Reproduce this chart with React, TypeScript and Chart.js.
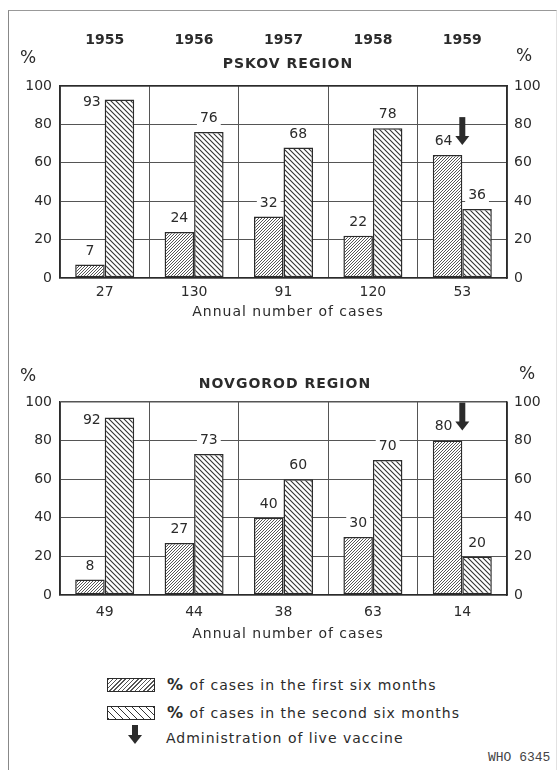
import React, { useEffect, useRef } from "react";
import { Chart, registerables } from "chart.js";

Chart.register(...registerables);

// ---------- data ----------
const years = ["1955", "1956", "1957", "1958", "1959"];

const pskovCases = ["27", "130", "91", "120", "53"];
const pskovFirstHalf = [7, 24, 32, 22, 64];
const pskovSecondHalf = [93, 76, 68, 78, 36];
const pskovVaccine = [false, false, false, false, true];

const novgorodCases = ["49", "44", "38", "63", "14"];
const novgorodFirstHalf = [8, 27, 40, 30, 80];
const novgorodSecondHalf = [92, 73, 60, 70, 20];
const novgorodVaccine = [false, false, false, false, true];

const legendLabels = [
  "of cases in the first six months",
  "of cases in the second six months",
  "Administration of live vaccine",
];

const FONT = "'DejaVu Sans', sans-serif";
const INK = "#2b2b2b";

function makeHatch(ctx: CanvasRenderingContext2D, dir: 1 | -1, size: number, lw: number, color: string) {
  const c = document.createElement("canvas");
  c.width = size;
  c.height = size;
  const g = c.getContext("2d")!;
  g.fillStyle = "#fff";
  g.fillRect(0, 0, size, size);
  g.strokeStyle = color;
  g.lineWidth = lw;
  g.beginPath();
  if (dir === 1) {
    g.moveTo(-1, size + 1);
    g.lineTo(size + 1, -1);
    g.moveTo(-1, 1);
    g.lineTo(1, -1);
    g.moveTo(size - 1, size + 1);
    g.lineTo(size + 1, size - 1);
  } else {
    g.moveTo(-1, -1);
    g.lineTo(size + 1, size + 1);
    g.moveTo(size - 1, -1);
    g.lineTo(size + 1, 1);
    g.moveTo(-1, size - 1);
    g.lineTo(1, size + 1);
  }
  g.stroke();
  return ctx.createPattern(c, "repeat")!;
}

function drawArrow(ctx: CanvasRenderingContext2D, x: number, tipY: number, len: number) {
  const shaftW = 6;
  const headW = 14;
  const headH = 9;
  ctx.save();
  ctx.fillStyle = INK;
  ctx.fillRect(x - shaftW / 2, tipY - len, shaftW, len - headH + 1);
  ctx.beginPath();
  ctx.moveTo(x - headW / 2, tipY - headH);
  ctx.lineTo(x + headW / 2, tipY - headH);
  ctx.lineTo(x, tipY);
  ctx.closePath();
  ctx.fill();
  ctx.restore();
}

const barLabelPlugin = {
  id: "barLabels",
  afterDatasetsDraw(chart: any) {
    const ctx: CanvasRenderingContext2D = chart.ctx;
    const opts = chart.options.plugins.barLabels || {};
    const vaccine: boolean[] = opts.vaccine || [];
    ctx.save();
    ctx.font = `14px ${FONT}`;
    ctx.textBaseline = "middle";
    chart.data.datasets.forEach((ds: any, di: number) => {
      const meta = chart.getDatasetMeta(di);
      meta.data.forEach((bar: any, i: number) => {
        const v = ds.data[i];
        const { x, y, width } = bar.getProps(["x", "y", "width"], true);
        const txt = String(v);
        const hasArrow = di === 0 && vaccine[i];
        if (v > 90) {
          ctx.textAlign = "right";
          ctx.fillStyle = INK;
          ctx.fillText(txt, x - width / 2 - 4, y + 3);
        } else {
          const cx = hasArrow ? x - 4 : x;
          const cy = y - (hasArrow ? 14 : 13.5);
          const w = ctx.measureText(txt).width;
          ctx.fillStyle = "#fff";
          ctx.fillRect(cx - w / 2 - 3, cy - 7, w + 6, 14);
          ctx.textAlign = "center";
          ctx.fillStyle = INK;
          ctx.fillText(txt, cx, cy);
        }
        if (hasArrow) {
          drawArrow(ctx, x + width / 2, y - 10, 28);
        }
      });
    });
    ctx.restore();
  },
};

type PanelProps = {
  cases: string[];
  first: number[];
  second: number[];
  vaccine: boolean[];
  showYears: boolean;
  top: number;
  plotTop: number;
  bottomH: number;
  tickPad: number;
};

function Panel({ cases, first, second, vaccine, showYears, top, plotTop, bottomH, tickPad }: PanelProps) {
  const ref = useRef<HTMLCanvasElement | null>(null);
  useEffect(() => {
    const canvas = ref.current!;
    const ctx = canvas.getContext("2d")!;
    const pat1 = makeHatch(ctx, 1, 3, 1, "#555");
    const pat2 = makeHatch(ctx, -1, 5, 1.1, "#333");
    const tickFont = { family: FONT, size: 14 };
    const gridLine = {
      drawTicks: false,
      color: "#555",
      lineWidth: (c: any) => (c.tick && (c.tick.value === 100 || c.tick.value === 0) ? 1.5 : 1),
    };
    const scales: any = {
      x: {
        type: "category",
        position: "bottom",
        offset: true,
        grid: { offset: true, drawTicks: false, color: "#555", lineWidth: 1 },
        border: { display: true, color: INK, width: 1.5 },
        ticks: { padding: tickPad, font: tickFont, color: INK, autoSkip: false, maxRotation: 0 },
        afterFit: (s: any) => {
          s.height = bottomH;
        },
      },
      y: {
        position: "left",
        min: 0,
        max: 100,
        grid: gridLine,
        border: { display: true, color: INK, width: 1.5 },
        ticks: { stepSize: 20, padding: 8, font: tickFont, color: INK },
        afterFit: (s: any) => {
          s.width = 60;
        },
      },
      y2: {
        position: "right",
        min: 0,
        max: 100,
        grid: { display: false, drawTicks: false },
        border: { display: true, color: INK, width: 1.5 },
        ticks: { stepSize: 20, padding: 7, font: tickFont, color: INK },
        afterFit: (s: any) => {
          s.width = 51;
        },
      },
    };
    if (showYears) {
      scales.xTop = {
        type: "category",
        position: "top",
        labels: years,
        offset: true,
        grid: { display: false, drawTicks: false },
        border: { display: true, color: INK, width: 1.5 },
        ticks: { padding: 37, font: { family: FONT, size: 14, weight: "bold" }, color: INK, autoSkip: false, maxRotation: 0 },
        afterFit: (s: any) => {
          s.height = plotTop;
        },
      };
    }
    const chart = new Chart(ctx, {
      type: "bar",
      data: {
        labels: cases,
        datasets: [
          {
            label: "% of cases in the first six months",
            data: first,
            backgroundColor: pat1 as any,
            borderColor: INK,
            borderWidth: 1.5,
            borderSkipped: false,
            categoryPercentage: 0.66,
            barPercentage: 1,
            xAxisID: "x",
            yAxisID: "y",
          },
          {
            label: "% of cases in the second six months",
            data: second,
            backgroundColor: pat2 as any,
            borderColor: INK,
            borderWidth: 1.5,
            borderSkipped: false,
            categoryPercentage: 0.66,
            barPercentage: 1,
            xAxisID: "x",
            yAxisID: "y",
          },
        ],
      },
      options: {
        responsive: false,
        animation: false,
        layout: { padding: { top: showYears ? 0 : plotTop, left: 0, right: 0, bottom: 0 } },
        plugins: {
          legend: { display: false },
          tooltip: { enabled: false },
          barLabels: { vaccine },
        } as any,
        scales,
      },
      plugins: [barLabelPlugin],
    });
    return () => chart.destroy();
  }, []);
  return (
    <canvas
      ref={ref}
      width={558}
      height={320}
      style={{ position: "absolute", left: 0, top, width: 558, height: 320, display: "block" }}
    />
  );
}

function Txt({ x, y, center, children, style }: { x: number; y: number; center?: boolean; children: any; style?: any }) {
  return (
    <div
      style={{
        position: "absolute",
        left: x,
        top: y,
        transform: `translate(${center ? "-50%" : "0"}, -50%)`,
        whiteSpace: "nowrap",
        fontFamily: FONT,
        fontSize: 14,
        lineHeight: "18px",
        color: INK,
        ...style,
      }}
    >
      {children}
    </div>
  );
}

function Swatch({ top, angle, period, color }: { top: number; angle: number; period: number; color: string }) {
  return (
    <div
      style={{
        position: "absolute",
        left: 107,
        top,
        width: 48,
        height: 14,
        boxSizing: "border-box",
        border: `1.5px solid ${INK}`,
        background: `repeating-linear-gradient(${angle}deg, ${color} 0px, ${color} 1px, #fff 1px, #fff ${period}px)`,
      }}
    />
  );
}

export default function App() {
  useEffect(() => {
    document.body.style.margin = "0";
  }, []);
  return (
    <div style={{ position: "relative", width: 558, height: 770, background: "#fff", overflow: "hidden" }}>
      <div
        style={{
          position: "absolute",
          left: 8,
          top: 10,
          width: 547,
          height: 780,
          borderLeft: "1.5px solid #888",
          borderTop: "1.5px solid #999",
          borderRight: "1px solid #e2e2e2",
        }}
      />
      <Panel
        cases={pskovCases}
        first={pskovFirstHalf}
        second={pskovSecondHalf}
        vaccine={pskovVaccine}
        showYears={true}
        top={0}
        plotTop={86}
        bottomH={42}
        tickPad={6}
      />
      <Panel
        cases={novgorodCases}
        first={novgorodFirstHalf}
        second={novgorodSecondHalf}
        vaccine={novgorodVaccine}
        showYears={false}
        top={320}
        plotTop={82}
        bottomH={45}
        tickPad={9}
      />

      {/* top panel texts */}
      <Txt x={28} y={57} center style={{ fontSize: 17 }}>%</Txt>
      <Txt x={524} y={55} center style={{ fontSize: 17 }}>%</Txt>
      <Txt x={288} y={63} center style={{ fontWeight: "bold", letterSpacing: "1px" }}>PSKOV REGION</Txt>
      <Txt x={288} y={311} center style={{ letterSpacing: "1px" }}>Annual number of cases</Txt>

      {/* bottom panel texts */}
      <Txt x={28} y={375} center style={{ fontSize: 17 }}>%</Txt>
      <Txt x={527} y={373} center style={{ fontSize: 17 }}>%</Txt>
      <Txt x={285} y={383} center style={{ fontWeight: "bold", letterSpacing: "1px" }}>NOVGOROD REGION</Txt>
      <Txt x={288} y={633} center style={{ letterSpacing: "1px" }}>Annual number of cases</Txt>

      {/* legend */}
      <Swatch top={678} angle={135} period={3} color="#555" />
      <Swatch top={706} angle={45} period={5} color="#333" />
      <Txt x={167} y={685} style={{ letterSpacing: "1px" }}>
        <b style={{ fontSize: 16 }}>%</b> {legendLabels[0]}
      </Txt>
      <Txt x={167} y={713} style={{ letterSpacing: "1px" }}>
        <b style={{ fontSize: 16 }}>%</b> {legendLabels[1]}
      </Txt>
      <svg style={{ position: "absolute", left: 127, top: 725 }} width={16} height={19}>
        <rect x={5} y={0} width={6} height={11} fill={INK} />
        <polygon points="1,10 15,10 8,19" fill={INK} />
      </svg>
      <Txt x={166} y={738} style={{ letterSpacing: "1px" }}>{legendLabels[2]}</Txt>

      <Txt x={488} y={758} style={{ fontFamily: "'Liberation Mono', monospace", fontSize: 13, color: "#444" }}>
        WHO 6345
      </Txt>
    </div>
  );
}
